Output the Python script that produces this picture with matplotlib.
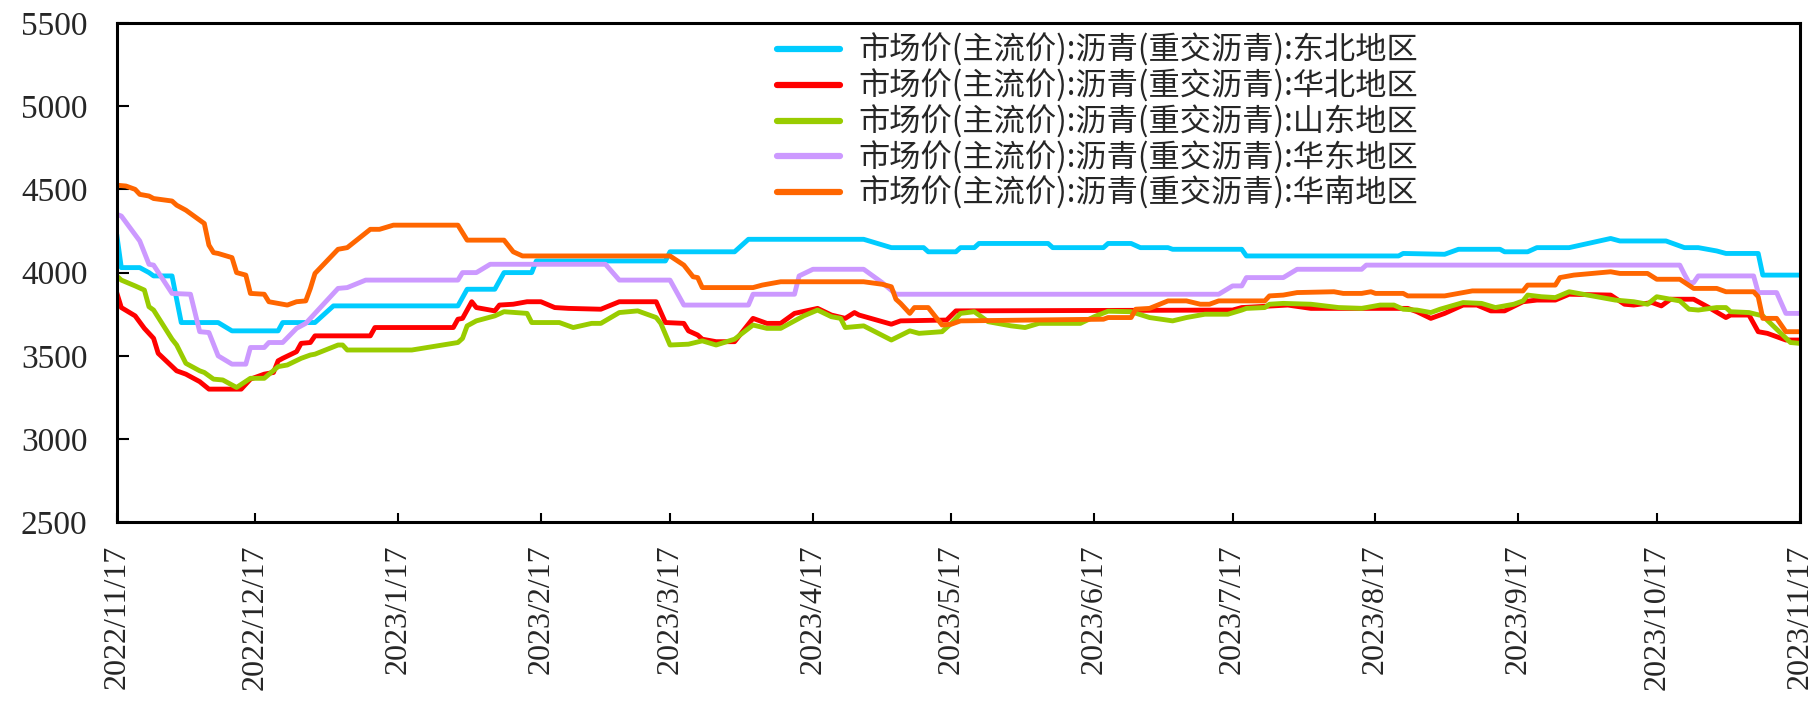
import matplotlib
matplotlib.use("Agg")
import matplotlib.pyplot as plt
import pandas as pd

plt.rcParams['font.family'] = ['Noto Sans CJK SC', 'DejaVu Sans']

# ---------------- data ----------------
labels = [
    "市场价(主流价):沥青(重交沥青):东北地区",
    "市场价(主流价):沥青(重交沥青):华北地区",
    "市场价(主流价):沥青(重交沥青):山东地区",
    "市场价(主流价):沥青(重交沥青):华东地区",
    "市场价(主流价):沥青(重交沥青):华南地区",
]
colors = ["#00CCFF", "#FF0000", "#99CC00", "#CC99FF", "#FF6600"]

dates_dongbei = [
    "2022-11-17", "2022-11-18", "2022-11-22", "2022-11-24", "2022-11-25", "2022-11-29",
    "2022-12-01", "2022-12-09", "2022-12-12", "2022-12-22", "2022-12-23", "2022-12-30",
    "2023-01-03", "2023-01-30", "2023-02-01", "2023-02-07", "2023-02-09", "2023-02-15",
    "2023-02-16", "2023-03-16", "2023-03-17", "2023-03-31", "2023-04-03", "2023-04-28",
    "2023-05-04", "2023-05-11", "2023-05-12", "2023-05-18", "2023-05-19", "2023-05-22",
    "2023-05-23", "2023-06-07", "2023-06-08", "2023-06-19", "2023-06-20", "2023-06-25",
    "2023-06-27", "2023-07-03", "2023-07-04", "2023-07-19", "2023-07-20", "2023-08-22",
    "2023-08-23", "2023-09-01", "2023-09-04", "2023-09-13", "2023-09-14", "2023-09-19",
    "2023-09-21", "2023-09-28", "2023-10-07", "2023-10-09", "2023-10-19", "2023-10-23",
    "2023-10-26", "2023-10-30", "2023-11-01", "2023-11-08", "2023-11-09", "2023-11-17",
]
vals_dongbei = [
    4230, 4030, 4030, 4000, 3980, 3980,
    3700, 3700, 3650, 3650, 3700, 3700,
    3800, 3800, 3900, 3900, 4000, 4000,
    4070, 4070, 4125, 4125, 4200, 4200,
    4150, 4150, 4125, 4125, 4150, 4150,
    4175, 4175, 4150, 4150, 4175, 4175,
    4150, 4150, 4140, 4140, 4100, 4100,
    4115, 4110, 4140, 4140, 4125, 4125,
    4150, 4150, 4205, 4190, 4190, 4150,
    4150, 4130, 4115, 4115, 3985, 3985,
]

dates_huabei = [
    "2022-11-17", "2022-11-18", "2022-11-21", "2022-11-23", "2022-11-25", "2022-11-26",
    "2022-11-30", "2022-12-02", "2022-12-05", "2022-12-07", "2022-12-14", "2022-12-16",
    "2022-12-19", "2022-12-21", "2022-12-22", "2022-12-23", "2022-12-26", "2022-12-27",
    "2022-12-29", "2022-12-30", "2023-01-11", "2023-01-12", "2023-01-29", "2023-01-30",
    "2023-01-31", "2023-02-02", "2023-02-03", "2023-02-07", "2023-02-08", "2023-02-11",
    "2023-02-14", "2023-02-17", "2023-02-20", "2023-02-23", "2023-03-02", "2023-03-06",
    "2023-03-14", "2023-03-16", "2023-03-20", "2023-03-21", "2023-03-23", "2023-03-24",
    "2023-03-27", "2023-03-31", "2023-04-04", "2023-04-07", "2023-04-10", "2023-04-13",
    "2023-04-18", "2023-04-21", "2023-04-24", "2023-04-26", "2023-04-27", "2023-05-04",
    "2023-05-06", "2023-05-16", "2023-05-18", "2023-07-17", "2023-07-19", "2023-07-29",
    "2023-08-03", "2023-08-24", "2023-08-26", "2023-08-29", "2023-09-01", "2023-09-05",
    "2023-09-08", "2023-09-11", "2023-09-14", "2023-09-18", "2023-09-21", "2023-09-25",
    "2023-09-28", "2023-10-07", "2023-10-10", "2023-10-12", "2023-10-16", "2023-10-18",
    "2023-10-20", "2023-10-25", "2023-10-28", "2023-11-01", "2023-11-02", "2023-11-06",
    "2023-11-08", "2023-11-10", "2023-11-13", "2023-11-14", "2023-11-17",
]
vals_huabei = [
    3880, 3790, 3740, 3665, 3605, 3515,
    3410, 3390, 3345, 3300, 3300, 3360,
    3390, 3400, 3470, 3485, 3525, 3575,
    3580, 3620, 3620, 3670, 3670, 3720,
    3725, 3825, 3790, 3770, 3805, 3810,
    3825, 3825, 3790, 3785, 3780, 3825,
    3825, 3700, 3695, 3650, 3625, 3600,
    3585, 3585, 3725, 3695, 3695, 3755,
    3785, 3745, 3725, 3760, 3745, 3690,
    3710, 3715, 3770, 3775, 3790, 3805,
    3785, 3785, 3765, 3725, 3755, 3805,
    3805, 3770, 3770, 3825, 3835, 3835,
    3870, 3865, 3810, 3805, 3820, 3800,
    3840, 3840, 3795, 3730, 3745, 3745,
    3645, 3635, 3605, 3595, 3595,
]

dates_shandong = [
    "2022-11-17", "2022-11-18", "2022-11-21", "2022-11-23", "2022-11-24", "2022-11-25",
    "2022-11-29", "2022-11-30", "2022-12-02", "2022-12-05", "2022-12-06", "2022-12-08",
    "2022-12-10", "2022-12-13", "2022-12-16", "2022-12-19", "2022-12-22", "2022-12-24",
    "2022-12-27", "2022-12-29", "2022-12-30", "2023-01-04", "2023-01-05", "2023-01-06",
    "2023-01-20", "2023-01-30", "2023-01-31", "2023-02-01", "2023-02-03", "2023-02-07",
    "2023-02-09", "2023-02-14", "2023-02-15", "2023-02-21", "2023-02-24", "2023-02-28",
    "2023-03-02", "2023-03-06", "2023-03-10", "2023-03-14", "2023-03-15", "2023-03-17",
    "2023-03-21", "2023-03-24", "2023-03-27", "2023-03-31", "2023-04-04", "2023-04-07",
    "2023-04-10", "2023-04-15", "2023-04-18", "2023-04-21", "2023-04-23", "2023-04-24",
    "2023-04-28", "2023-05-04", "2023-05-08", "2023-05-10", "2023-05-15", "2023-05-17",
    "2023-05-19", "2023-05-22", "2023-05-25", "2023-05-30", "2023-06-02", "2023-06-05",
    "2023-06-14", "2023-06-17", "2023-06-20", "2023-06-25", "2023-06-29", "2023-07-04",
    "2023-07-07", "2023-07-11", "2023-07-16", "2023-07-19", "2023-07-20", "2023-07-24",
    "2023-07-25", "2023-07-28", "2023-08-03", "2023-08-09", "2023-08-14", "2023-08-18",
    "2023-08-21", "2023-08-23", "2023-08-26", "2023-08-29", "2023-08-31", "2023-09-05",
    "2023-09-09", "2023-09-12", "2023-09-16", "2023-09-18", "2023-09-19", "2023-09-22",
    "2023-09-25", "2023-09-28", "2023-09-30", "2023-10-08", "2023-10-12", "2023-10-15",
    "2023-10-17", "2023-10-22", "2023-10-24", "2023-10-26", "2023-10-30", "2023-11-01",
    "2023-11-02", "2023-11-06", "2023-11-09", "2023-11-15", "2023-11-17",
]
vals_shandong = [
    3980, 3955, 3920, 3895, 3795, 3775,
    3600, 3565, 3455, 3410, 3400, 3360,
    3355, 3310, 3365, 3365, 3435, 3445,
    3485, 3505, 3510, 3565, 3565, 3535,
    3535, 3580, 3605, 3680, 3710, 3740,
    3765, 3755, 3700, 3700, 3670, 3695,
    3695, 3760, 3770, 3730, 3695, 3565,
    3570, 3590, 3565, 3600, 3685, 3665,
    3665, 3740, 3775, 3735, 3725, 3670,
    3680, 3595, 3650, 3635, 3645, 3695,
    3755, 3765, 3705, 3680, 3670, 3695,
    3695, 3735, 3768, 3765, 3730, 3710,
    3730, 3750, 3750, 3775, 3785, 3790,
    3810, 3815, 3810, 3790, 3785, 3805,
    3805, 3780, 3775, 3760, 3780, 3820,
    3815, 3790, 3810, 3830, 3865, 3855,
    3850, 3885, 3875, 3835, 3825, 3810,
    3855, 3830, 3780, 3775, 3790, 3790,
    3765, 3760, 3740, 3580, 3575,
]

dates_huadong = [
    "2022-11-17", "2022-11-18", "2022-11-22", "2022-11-24", "2022-11-25", "2022-11-29",
    "2022-12-03", "2022-12-05", "2022-12-07", "2022-12-09", "2022-12-12", "2022-12-15",
    "2022-12-16", "2022-12-19", "2022-12-20", "2022-12-23", "2022-12-26", "2022-12-28",
    "2022-12-30", "2023-01-02", "2023-01-04", "2023-01-06", "2023-01-10", "2023-01-30",
    "2023-01-31", "2023-02-03", "2023-02-06", "2023-03-03", "2023-03-06", "2023-03-17",
    "2023-03-20", "2023-04-03", "2023-04-04", "2023-04-13", "2023-04-14", "2023-04-17",
    "2023-04-28", "2023-05-02", "2023-05-05", "2023-07-14", "2023-07-17", "2023-07-19",
    "2023-07-20", "2023-07-28", "2023-07-31", "2023-08-14", "2023-08-15", "2023-10-22",
    "2023-10-23", "2023-10-24", "2023-10-25", "2023-10-26", "2023-11-07", "2023-11-08",
    "2023-11-12", "2023-11-14", "2023-11-17",
]
vals_huadong = [
    4350, 4340, 4190, 4050, 4045, 3875,
    3870, 3645, 3640, 3500, 3450, 3450,
    3550, 3550, 3580, 3580, 3665, 3695,
    3755, 3845, 3905, 3910, 3955, 3955,
    4000, 4000, 4050, 4050, 3955, 3955,
    3805, 3805, 3870, 3870, 3980, 4020,
    4020, 3940, 3870, 3870, 3920, 3920,
    3970, 3970, 4020, 4020, 4045, 4045,
    3990, 3940, 3940, 3980, 3980, 3880,
    3880, 3755, 3755,
]

dates_huanan = [
    "2022-11-17", "2022-11-19", "2022-11-21", "2022-11-22", "2022-11-24", "2022-11-25",
    "2022-11-29", "2022-11-30", "2022-12-02", "2022-12-04", "2022-12-06", "2022-12-07",
    "2022-12-08", "2022-12-09", "2022-12-12", "2022-12-13", "2022-12-15", "2022-12-16",
    "2022-12-19", "2022-12-20", "2022-12-22", "2022-12-24", "2022-12-26", "2022-12-28",
    "2022-12-29", "2022-12-30", "2023-01-04", "2023-01-06", "2023-01-11", "2023-01-13",
    "2023-01-16", "2023-01-30", "2023-02-01", "2023-02-09", "2023-02-11", "2023-02-13",
    "2023-03-17", "2023-03-20", "2023-03-22", "2023-03-23", "2023-03-24", "2023-04-04",
    "2023-04-06", "2023-04-10", "2023-04-28", "2023-05-02", "2023-05-04", "2023-05-05",
    "2023-05-06", "2023-05-08", "2023-05-09", "2023-05-12", "2023-05-15", "2023-05-17",
    "2023-05-19", "2023-06-19", "2023-06-20", "2023-06-25", "2023-06-26", "2023-06-29",
    "2023-07-03", "2023-07-07", "2023-07-10", "2023-07-12", "2023-07-14", "2023-07-24",
    "2023-07-25", "2023-07-28", "2023-07-31", "2023-08-08", "2023-08-10", "2023-08-14",
    "2023-08-16", "2023-08-17", "2023-08-23", "2023-08-24", "2023-09-01", "2023-09-05",
    "2023-09-07", "2023-09-18", "2023-09-19", "2023-09-25", "2023-09-26", "2023-09-29",
    "2023-10-07", "2023-10-09", "2023-10-15", "2023-10-17", "2023-10-22", "2023-10-25",
    "2023-10-30", "2023-11-01", "2023-11-07", "2023-11-08", "2023-11-09", "2023-11-12",
    "2023-11-14", "2023-11-17",
]
vals_huanan = [
    4525, 4520, 4500, 4470, 4460, 4445,
    4430, 4405, 4375, 4335, 4295, 4165,
    4120, 4115, 4090, 4000, 3985, 3875,
    3870, 3825, 3815, 3805, 3825, 3830,
    3905, 3995, 4140, 4150, 4260, 4260,
    4285, 4285, 4195, 4195, 4125, 4100,
    4100, 4045, 3975, 3970, 3910, 3910,
    3925, 3945, 3945, 3930, 3915, 3840,
    3815, 3755, 3790, 3790, 3685, 3690,
    3710, 3720, 3730, 3730, 3780, 3785,
    3830, 3830, 3810, 3810, 3830, 3830,
    3860, 3865, 3880, 3885, 3875, 3875,
    3885, 3875, 3875, 3860, 3860, 3880,
    3890, 3890, 3925, 3925, 3970, 3985,
    4005, 3995, 3995, 3960, 3960, 3905,
    3905, 3885, 3885, 3855, 3725, 3725,
    3645, 3645,
]

y_ticks = [2500, 3000, 3500, 4000, 4500, 5000, 5500]
x_tick_dates = [
    "2022-11-17", "2022-12-17", "2023-01-17", "2023-02-17", "2023-03-17", "2023-04-17",
    "2023-05-17", "2023-06-17", "2023-07-17", "2023-08-17", "2023-09-17", "2023-10-17",
    "2023-11-17",
]
x_tick_labels = [
    "2022/11/17", "2022/12/17", "2023/1/17", "2023/2/17", "2023/3/17", "2023/4/17",
    "2023/5/17", "2023/6/17", "2023/7/17", "2023/8/17", "2023/9/17", "2023/10/17",
    "2023/11/17",
]

series = [
    (dates_dongbei, vals_dongbei),
    (dates_huabei, vals_huabei),
    (dates_shandong, vals_shandong),
    (dates_huadong, vals_huadong),
    (dates_huanan, vals_huanan),
]

# ---------------- plot ----------------
W, H = 1819, 701
fig = plt.figure(figsize=(W / 100, H / 100), dpi=100)
ax = fig.add_axes([116.7 / W, 1 - 522.3 / H, (1799.7 - 116.7) / W, (522.3 - 22.9) / H])

for (d, v), c, lab in zip(series, colors, labels):
    ax.plot(pd.to_datetime(d), v, color=c, lw=3.5, label=lab,
            solid_joinstyle='round', solid_capstyle='butt')

ax.set_xlim(pd.Timestamp("2022-11-17"), pd.Timestamp("2023-11-17"))
ax.set_ylim(2500, 5500)
ax.set_yticks(y_ticks)
ax.set_yticklabels([str(t) for t in y_ticks], fontfamily='Liberation Serif',
                   fontsize=24, color='#262626')
ax.set_xticks(pd.to_datetime(x_tick_dates))
ax.set_xticklabels(x_tick_labels, rotation=90, fontfamily='Liberation Serif',
                   fontsize=23, color='#262626')

ax.tick_params(axis='x', direction='in', length=6.5, width=1.5, pad=16,
               top=False)
ax.tick_params(axis='y', direction='in', length=8.6, width=1.5, pad=21,
               right=False)
for s in ax.spines.values():
    s.set_linewidth(2.2)
    s.set_color('black')

leg = ax.legend(loc='upper left', bbox_to_anchor=(777 / W, 1 - 34 / H),
                bbox_transform=fig.transFigure, frameon=False, fontsize=22.5,
                handlelength=2.0, handletextpad=0.6, labelspacing=0.08,
                borderpad=0, borderaxespad=0)
for t in leg.get_texts():
    t.set_color('#262626')
for h in leg.get_lines():
    h.set_linewidth(4.5)
    h.set_solid_capstyle('round')

fig.savefig("out.png", dpi=100)
